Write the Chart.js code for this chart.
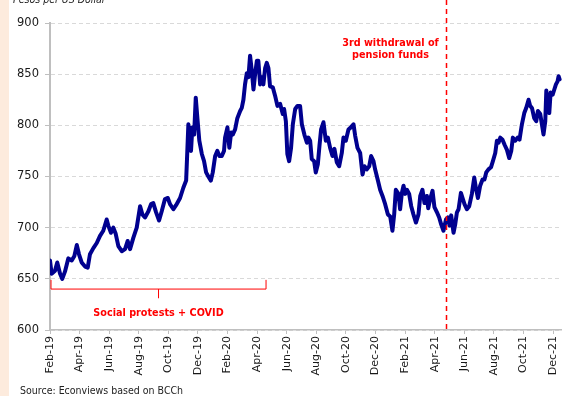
<!DOCTYPE html>
<html>
<head>
<meta charset="utf-8">
<script src="https://cdn.jsdelivr.net/npm/chart.js@4/dist/chart.umd.min.js"></script>
<style>
  html, body { margin: 0; padding: 0; background: #fff; }
  canvas { display: block; }
</style>
</head>
<body>
<canvas id="peso-chart" width="562" height="396"></canvas>
<script>
  // x axis: months elapsed since 1 Feb 2019
  const tickLabels = ['Feb-19', 'Apr-19', 'Jun-19', 'Aug-19', 'Oct-19', 'Dec-19', 'Feb-20', 'Apr-20', 'Jun-20',
    'Aug-20', 'Oct-20', 'Dec-20', 'Feb-21', 'Apr-21', 'Jun-21', 'Aug-21', 'Oct-21', 'Dec-21'];

  const monthIndex = [
    0.00, 0.11, 0.34, 0.49, 0.68, 0.83, 1.01, 1.24, 1.47, 1.64, 1.81, 1.96, 2.14, 2.37, 2.55, 2.70, 2.93, 3.16,
    3.38, 3.60, 3.83, 3.94, 4.12, 4.28, 4.44, 4.62, 4.85, 5.07, 5.25, 5.41, 5.63, 5.86, 6.09, 6.24, 6.42, 6.65,
    6.83, 6.98, 7.17, 7.37, 7.55, 7.77, 7.96, 8.11, 8.34, 8.52, 8.79, 9.01, 9.20, 9.28, 9.35, 9.47, 9.53, 9.62,
    9.74, 9.85, 9.96, 10.09, 10.26, 10.41, 10.55, 10.70, 10.87, 11.00, 11.16, 11.31, 11.45, 11.61, 11.76, 11.83,
    11.99, 12.12, 12.24, 12.35, 12.51, 12.66, 12.85, 12.96, 13.07, 13.18, 13.30, 13.41, 13.52, 13.64, 13.75,
    13.86, 13.98, 14.08, 14.20, 14.31, 14.42, 14.54, 14.65, 14.76, 14.87, 15.06, 15.21, 15.37, 15.55, 15.73,
    15.82, 15.94, 16.04, 16.16, 16.29, 16.41, 16.57, 16.72, 16.90, 17.02, 17.19, 17.36, 17.46, 17.58, 17.69,
    17.85, 17.96, 18.10, 18.21, 18.32, 18.48, 18.64, 18.78, 18.93, 19.09, 19.22, 19.38, 19.54, 19.72, 19.83,
    19.99, 20.17, 20.33, 20.51, 20.62, 20.78, 20.96, 21.12, 21.25, 21.41, 21.57, 21.70, 21.86, 21.97, 22.16,
    22.31, 22.47, 22.65, 22.83, 22.99, 23.14, 23.26, 23.37, 23.55, 23.66, 23.78, 23.89, 24.00, 24.12, 24.27,
    24.41, 24.56, 24.73, 24.90, 25.02, 25.17, 25.31, 25.47, 25.56, 25.69, 25.85, 25.98, 26.15, 26.30, 26.44,
    26.59, 26.76, 26.89, 27.00, 27.11, 27.27, 27.38, 27.50, 27.61, 27.77, 27.88, 28.01, 28.17, 28.33, 28.51,
    28.67, 28.78, 28.92, 29.07, 29.23, 29.36, 29.48, 29.63, 29.80, 29.93, 30.09, 30.20, 30.31, 30.43, 30.58,
    30.72, 30.88, 31.03, 31.17, 31.28, 31.44, 31.60, 31.73, 31.89, 32.05, 32.18, 32.34, 32.45, 32.57, 32.72,
    32.86, 32.97, 33.13, 33.24, 33.35, 33.47, 33.54, 33.62, 33.74, 33.83, 33.97, 34.08, 34.19, 34.30, 34.37,
    34.44,
  ];

  const pesosPerDollar = [
    668, 655, 658, 666, 655, 650, 657, 670, 668, 672, 683, 674, 666, 662, 661, 674, 680, 685,
    692, 697, 708, 702, 695, 700, 694, 682, 677, 679, 687, 679, 690, 700, 721, 713, 710, 716,
    723, 724, 715, 707, 716, 728, 729, 723, 718, 722, 729, 739, 746, 775, 801, 791, 775, 798,
    791, 827, 807, 785, 772, 765, 754, 750, 746, 754, 770, 775, 770, 770, 775, 788,
    798, 778, 793, 791, 796, 807, 814, 817, 825, 840, 851, 847, 868, 853, 835,
    850, 863, 863, 840, 847, 840, 856, 861, 856, 838, 837, 829, 819, 821, 811,
    816, 804, 772, 765, 778, 801, 816, 819, 819, 801, 791, 783, 788, 785, 767,
    765, 754, 762, 780, 796, 803, 785, 788, 778, 770, 777, 764, 760, 773, 788,
    785, 796, 798, 801, 790, 778, 773, 752, 760, 757, 760, 770, 765, 757, 746,
    737, 731, 723, 713, 711, 697, 713, 737, 733, 718, 734, 741, 733, 737, 733,
    721, 713, 705, 713, 731, 737, 724, 731, 719, 728, 736, 720, 715, 710, 703,
    697, 708, 710, 702, 712, 695, 703, 715, 718, 734, 729, 723, 718, 721, 733,
    749, 739, 729, 741, 747, 747, 754, 757, 759, 765, 773, 785, 783, 788, 786,
    781, 776, 768, 775, 788, 785, 788, 786, 801, 812, 817, 825, 819, 817, 807,
    804, 814, 811, 801, 791, 804, 834, 821, 812, 832, 830, 835, 840, 843, 848,
    845,
  ];

  // third pension-fund withdrawal (late April 2021) and the protests/COVID stretch
  const withdrawalMonth = 26.78;
  const protestSpan = [0, 14.6];

  const RED = '#ff0000';
  const AXIS_GREY = '#bfbfbf';

  function drawText(ctx, text, x, y, font, color, align, squeeze) {
    ctx.save();
    ctx.font = font;
    ctx.fillStyle = color;
    ctx.textBaseline = 'alphabetic';
    ctx.translate(x, y);
    ctx.scale(squeeze, 1);
    ctx.textAlign = align;
    ctx.fillText(text, 0, 0);
    ctx.restore();
  }

  const decorations = {
    id: 'decorations',
    beforeDraw(chart) {
      const ctx = chart.ctx;
      ctx.save();
      ctx.fillStyle = '#ffffff';
      ctx.fillRect(0, 0, chart.width, chart.height);
      ctx.fillStyle = '#fdebdd';
      ctx.fillRect(0, 0, 9, chart.height);
      ctx.restore();
    },
    afterDatasetsDraw(chart) {
      const ctx = chart.ctx;
      const xs = chart.scales.x;
      const ys = chart.scales.y;

      // withdrawal marker
      const wx = Math.round(xs.getPixelForValue(withdrawalMonth)) + 0.5;
      ctx.save();
      ctx.strokeStyle = RED;
      ctx.lineWidth = 1.5;
      ctx.setLineDash([5, 4]);
      ctx.beginPath();
      ctx.moveTo(wx, 0);
      ctx.lineTo(wx, chart.chartArea.bottom);
      ctx.stroke();
      ctx.restore();

      const bold = 'bold 10.5px "DejaVu Sans"';
      drawText(ctx, '3rd withdrawal of', wx - 56, 46, bold, RED, 'center', 0.92);
      drawText(ctx, 'pension funds', wx - 56, 58, bold, RED, 'center', 0.92);

      // bracket under the protests/COVID period
      const x0 = xs.getPixelForValue(protestSpan[0]) + 1;
      const x1 = xs.getPixelForValue(protestSpan[1]);
      const xm = (x0 + x1) / 2;
      const yTop = ys.getPixelForValue(649);
      const yMid = ys.getPixelForValue(640);
      const yTip = ys.getPixelForValue(631);
      ctx.save();
      ctx.strokeStyle = RED;
      ctx.lineWidth = 1;
      ctx.beginPath();
      ctx.moveTo(x0, yTop);
      ctx.lineTo(x0, yMid);
      ctx.lineTo(x1, yMid);
      ctx.lineTo(x1, yTop);
      ctx.moveTo(xm, yMid);
      ctx.lineTo(xm, yTip);
      ctx.stroke();
      ctx.restore();
      drawText(ctx, 'Social protests + COVID', xm, 316, bold, RED, 'center', 0.92);
    },
    afterDraw(chart) {
      const ctx = chart.ctx;
      drawText(ctx, 'Pesos per US Dollar', 13, 3, 'italic 10.5px "DejaVu Sans"', '#222', 'left', 0.9);
      drawText(ctx, 'Source: Econviews based on BCCh', 20, 394, '10.5px "DejaVu Sans"', '#222', 'left', 0.9);
    },
  };

  new Chart(document.getElementById('peso-chart').getContext('2d'), {
    type: 'line',
    data: {
      datasets: [
        {
          label: 'Pesos per US Dollar',
          data: monthIndex.map((m, i) => ({ x: m, y: pesosPerDollar[i] })),
          borderColor: '#00008f',
          borderWidth: 4,
          pointRadius: 0,
          tension: 0,
          borderJoinStyle: 'round',
          borderCapStyle: 'round',
        },
      ],
    },
    options: {
      responsive: false,
      animation: false,
      layout: { padding: { top: 23, left: 0, right: 0, bottom: 0 } },
      plugins: {
        legend: { display: false },
        tooltip: { enabled: false },
        title: { display: false },
      },
      scales: {
        x: {
          type: 'linear',
          min: 0,
          max: 34.6,
          afterBuildTicks: scale => {
            scale.ticks = tickLabels.map((label, i) => ({ value: i * 2 }));
          },
          afterFit: scale => {
            scale.height = 66;
            scale.paddingLeft = 0;
            scale.paddingRight = 0;
          },
          ticks: {
            autoSkip: false,
            minRotation: 90,
            maxRotation: 90,
            padding: 2,
            color: '#1a1a1a',
            font: { family: '"DejaVu Sans"', size: 11 },
            callback: value => tickLabels[Math.round(value / 2)],
          },
          grid: {
            drawOnChartArea: false,
            tickLength: 4,
            tickColor: AXIS_GREY,
            color: AXIS_GREY,
          },
          border: { color: AXIS_GREY, width: 1.5 },
        },
        y: {
          min: 600,
          max: 900,
          afterFit: scale => {
            scale.width = 50;
          },
          ticks: {
            stepSize: 50,
            padding: 6,
            color: '#1a1a1a',
            font: { family: '"DejaVu Sans"', size: 11.5 },
          },
          grid: {
            color: '#d9d9d9',
            lineWidth: 1,
            tickLength: 5,
            tickColor: AXIS_GREY,
          },
          border: { color: AXIS_GREY, width: 2, dash: [4, 3] },
        },
      },
    },
    plugins: [decorations],
  });
</script>
</body>
</html>
